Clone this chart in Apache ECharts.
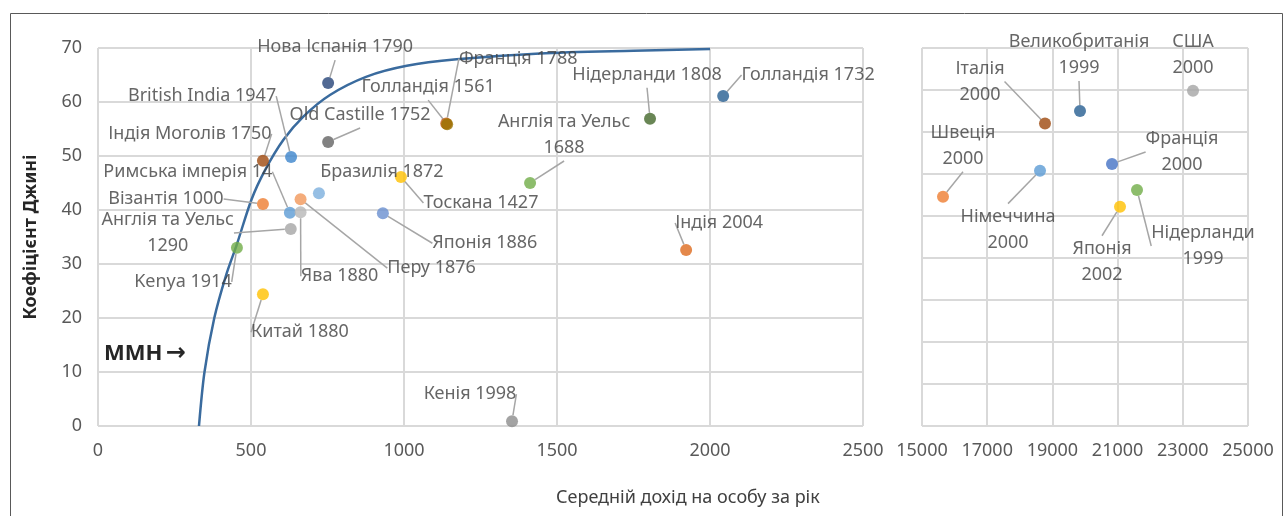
<!DOCTYPE html>
<html>
<head>
<meta charset="utf-8">
<script src="https://cdn.jsdelivr.net/npm/echarts@6/dist/echarts.min.js"></script>
<style>
  html, body { margin: 0; padding: 0; background: #fff; }
  #chart { width: 1286px; height: 516px; }
</style>
</head>
<body>
<div id="chart"></div>
<script>
// frontier curve
const frontierIncome = [330, 348, 380, 419, 453, 502, 546, 606, 671, 758, 878, 1009, 1172, 1444, 1750, 2000];
const frontierGini = [0, 10, 20, 28, 33.5, 42, 47.4, 53, 57.3, 61.3, 64.7, 66.7, 67.9, 69.0, 69.5, 69.8];

// pre-industrial societies
const pastNames = [
  'Нова Іспанія 1790', 'British India 1947', 'Індія Моголів 1750', 'Old Castille 1752',
  'Франція 1788', 'Голландія 1561', 'Римська імперія 14', 'Бразилія 1872', 'Тоскана 1427',
  'Візантія 1000', 'Перу 1876', 'Ява 1880', 'Англія та Уельс\n1290', 'Kenya 1914',
  'Китай 1880', 'Японія 1886', 'Англія та Уельс\n1688', 'Нідерланди 1808', 'Голландія 1732',
  'Індія 2004', 'Кенія 1998'
];
const pastIncome = [752, 631, 539, 752, 1138, 1141, 627, 722, 990, 539, 662, 662, 630, 454, 539, 931, 1412, 1804, 2043, 1922, 1353];
const pastGini = [63.5, 49.8, 49.1, 52.6, 56.0, 55.9, 39.5, 43.1, 46.1, 41.1, 42.0, 39.6, 36.5, 33.0, 24.4, 39.4, 45.0, 56.9, 61.1, 32.6, 0.9];

// modern societies
const modernNames = [
  'США\n2000', 'Великобританія\n1999', 'Італія\n2000', 'Швеція\n2000',
  'Німеччина\n2000', 'Франція\n2000', 'Японія\n2002', 'Нідерланди\n1999'
];
const modernIncome = [23313, 19847, 18773, 15644, 18620, 20828, 21074, 21595];
const modernGini = [39.9, 37.5, 36.0, 27.3, 30.4, 31.2, 26.1, 28.1];

// tick settings
const pastTicks = { min: 0, max: 2500, interval: 500 };
const modernTicks = { min: 15000, max: 25000, interval: 2000 };
const giniTicks = { min: 0, max: 70, interval: 10 };
const modernGiniTicks = { min: 0, max: 45, interval: 5 };

// styling, kept apart from the data
const pastColors = [
  '#264478', '#3C84CC', '#9E480E', '#636363', '#C55A11', '#997300', '#5B9BD5', '#7CAFDD', '#FFC000',
  '#ED7D31', '#F1975A', '#B7B7B7', '#A5A5A5', '#70AD47', '#FFC000', '#698ED0', '#70AD47', '#43682B',
  '#255E91', '#DD6A1E', '#8C8C8C'
];
const modernColors = ['#A5A5A5', '#255E91', '#9E480E', '#ED7D31', '#5B9BD5', '#4472C4', '#FFC000', '#70AD47'];
const pastLabelOffsets = [
  [7, -36], [-89, -61], [-73, -27], [32, -27], [72, -65], [-19, -37], [-102, -41], [63, -21], [80, 26],
  [-97, -5], [131, 69], [39, 64], [-123, 4], [-54, 34], [37, 38], [102, 30], [34, -48], [-3, -44],
  [85, -21], [33, -27], [-42, -27]
];
const modernLabelOffsets = [[0, -36], [-1, -56], [-65, -42], [20, -51], [-32, 59], [70, -12], [-18, 55], [66, 56]];
const noLeader = ['Бразилія 1872', 'США\n2000'];

const FONT = '"Noto Sans", "DejaVu Sans", sans-serif';
const gridLine = { lineStyle: { color: '#d9d9d9', width: 2 } };
const tickText = { color: '#595959', fontSize: 18, fontFamily: FONT, formatter: (v) => String(v) };

function pointData(names, xs, ys, colors) {
  return names.map((name, i) => ({
    name,
    value: [xs[i], ys[i]],
    itemStyle: { color: colors[i] },
    labelLine: { show: !noLeader.includes(name) },
  }));
}

function layoutFrom(offsets) {
  return (params) => {
    const off = offsets[params.dataIndex];
    const r = params.rect;
    return {
      x: r.x + r.width / 2 + off[0],
      y: r.y + r.height / 2 + off[1],
      align: 'center',
      verticalAlign: 'middle',
    };
  };
}

const scatterLabel = {
  show: true,
  position: 'inside',
  formatter: '{b}',
  color: '#404040',
  fontSize: 18,
  lineHeight: 26,
  fontFamily: FONT,
  align: 'center',
};

const chart = echarts.init(document.getElementById('chart'), null, { renderer: 'canvas' });
chart.setOption({
  animation: false,
  textStyle: { fontFamily: FONT },
  title: {
    text: 'Середній дохід на особу за рік',
    left: 551,
    top: 484,
    textStyle: { color: '#404040', fontSize: 18, fontWeight: 'normal', fontFamily: FONT },
  },
  graphic: [
    {
      type: 'rect',
      shape: { x: 10.5, y: 13.5, width: 1272, height: 530 },
      style: { fill: 'none', stroke: '#595959', lineWidth: 1 },
      silent: true,
    },
    {
      type: 'text',
      left: 104,
      top: 342,
      style: {
        text: '{a|ММН} {b|→}',
        rich: {
          a: { fill: '#262626', fontSize: 22, fontWeight: 'bold', fontFamily: FONT },
          b: { fill: '#262626', fontSize: 24, fontWeight: 'bold', fontFamily: '"DejaVu Sans", sans-serif' },
        },
      },
    },
  ],
  grid: [
    { left: 98, top: 48, width: 765, height: 378 },
    { left: 922, top: 48, width: 326, height: 378 },
  ],
  xAxis: [
    {
      gridIndex: 0, type: 'value', ...pastTicks,
      axisLine: { show: false }, axisTick: { show: false },
      axisLabel: { ...tickText, margin: 16 },
      splitLine: gridLine,
    },
    {
      gridIndex: 1, type: 'value', ...modernTicks,
      axisLine: { show: false }, axisTick: { show: false },
      axisLabel: { ...tickText, margin: 16 },
      splitLine: gridLine,
    },
  ],
  yAxis: [
    {
      gridIndex: 0, type: 'value', ...giniTicks,
      name: 'Коефіцієнт Джині',
      nameLocation: 'middle',
      nameGap: 58,
      nameTextStyle: { color: '#262626', fontSize: 18, fontWeight: 'bold', fontFamily: FONT },
      axisLine: { show: false }, axisTick: { show: false },
      axisLabel: { ...tickText, margin: 16 },
      splitLine: gridLine,
    },
    {
      gridIndex: 1, type: 'value', ...modernGiniTicks,
      axisLine: { show: false }, axisTick: { show: false },
      axisLabel: { show: false },
      splitLine: gridLine,
    },
  ],
  series: [
    {
      type: 'line',
      xAxisIndex: 0, yAxisIndex: 0,
      data: frontierIncome.map((x, i) => [x, frontierGini[i]]),
      smooth: 0.3,
      showSymbol: false,
      silent: true,
      lineStyle: { color: '#3A6B9E', width: 2.5 },
      z: 2,
    },
    {
      type: 'scatter',
      xAxisIndex: 0, yAxisIndex: 0,
      symbolSize: 12,
      data: pointData(pastNames, pastIncome, pastGini, pastColors),
      label: scatterLabel,
      labelLine: { show: true, lineStyle: { color: '#A6A6A6', width: 1.5 } },
      labelLayout: layoutFrom(pastLabelOffsets),
      z: 3,
    },
    {
      type: 'scatter',
      xAxisIndex: 1, yAxisIndex: 1,
      symbolSize: 12,
      data: pointData(modernNames, modernIncome, modernGini, modernColors),
      label: scatterLabel,
      labelLine: { show: true, lineStyle: { color: '#A6A6A6', width: 1.5 } },
      labelLayout: layoutFrom(modernLabelOffsets),
      z: 3,
    },
  ],
});
</script>
</body>
</html>
